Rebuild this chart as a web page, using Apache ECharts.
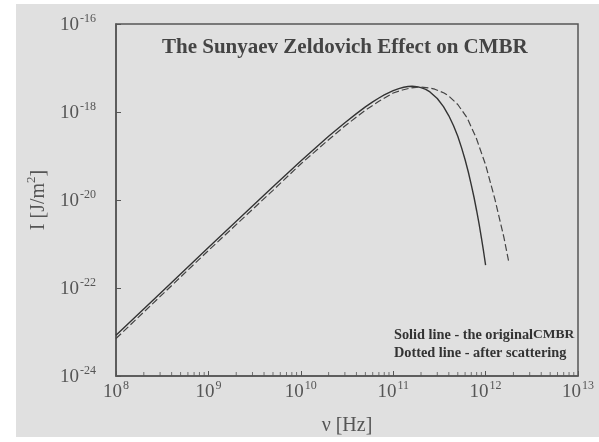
<!DOCTYPE html>
<html>
<head>
<meta charset="utf-8">
<script src="https://cdn.jsdelivr.net/npm/echarts@6/dist/echarts.min.js"></script>
<style>
html,body{margin:0;padding:0;background:#fff;}
#c{width:599px;height:442px;}
</style>
</head>
<body>
<div id="c"></div>
<script>
// Data (frequency in Hz, intensity in J/m^2)
const freqSolid = [1e8, 3e8, 1e9, 3e9, 5e9, 1e10, 1.5e10, 2e10, 3e10, 4e10, 5e10, 6e10, 7e10, 8e10, 9e10, 1e11, 1.15e11, 1.3e11, 1.45e11, 1.6e11, 1.8e11, 2e11, 2.25e11, 2.5e11, 3e11, 3.5e11, 4e11, 4.5e11, 5e11, 5.5e11, 6e11, 6.5e11, 7e11, 7.5e11, 8e11, 8.5e11, 9e11, 9.5e11, 1e12];
const valSolid  = [8.4e-24, 7.5e-23, 8.3e-22, 7.3e-21, 2.0e-20, 7.7e-20, 1.65e-19, 2.8e-19, 5.7e-19, 9.2e-19, 1.31e-18, 1.7e-18, 2.08e-18, 2.44e-18, 2.77e-18, 3.06e-18, 3.41e-18, 3.65e-18, 3.79e-18, 3.84e-18, 3.77e-18, 3.59e-18, 3.26e-18, 2.86e-18, 2.03e-18, 1.33e-18, 8.2e-19, 4.86e-19, 2.8e-19, 1.53e-19, 8.2e-20, 4.33e-20, 2.2e-20, 1.14e-20, 5.7e-21, 2.85e-21, 1.4e-21, 6.85e-22, 3.3e-22];
const freqDashed = [1e8, 1e9, 5e9, 1e10, 2e10, 3e10, 5e10, 7e10, 1e11, 1.26e11, 1.58e11, 2e11, 2.5e11, 2.82e11, 3.16e11, 3.55e11, 4e11, 5e11, 6.3e11, 7.9e11, 1e12, 1.26e12, 1.58e12, 1.79e12];
const valDashed  = [7.1e-24, 7.1e-22, 1.66e-20, 6.6e-20, 2.35e-19, 4.8e-19, 1.1e-18, 1.75e-18, 2.7e-18, 3.16e-18, 3.55e-18, 3.7e-18, 3.5e-18, 3.3e-18, 3.0e-18, 2.7e-18, 2.3e-18, 1.48e-18, 7.4e-19, 2.6e-19, 6.3e-20, 1.05e-20, 1.4e-21, 3.7e-22];
const xTickExponents = [8, 9, 10, 11, 12, 13];
const yTickExponents = [-24, -22, -20, -18, -16];
const minorMultipliers = [2, 3, 4, 5, 6, 7, 8, 9];
const titleText = 'The Sunyaev Zeldovich Effect on CMBR';
const noteLine1 = 'Solid line - the original';
const noteLine1b = 'CMBR';
const noteLine2 = 'Dotted line - after scattering';

// log10 scales (ECharts' log axis loses precision below 1e-20)
const lg = Math.log10;
const xMin = xTickExponents[0], xMax = xTickExponents[xTickExponents.length - 1];
const yMin = yTickExponents[0], yMax = yTickExponents[yTickExponents.length - 1];
const minorTicks = [];
for (let e = xMin; e < xMax; e++) {
  minorMultipliers.forEach(m => minorTicks.push([lg(m * Math.pow(10, e)), yMin]));
}

const serif = '"Liberation Serif", "DejaVu Serif", serif';
const labelRich = {
  b: {fontFamily: serif, fontSize: 19, color: '#555', lineHeight: 22, verticalAlign: 'bottom'},
  s: {fontFamily: serif, fontSize: 12, color: '#555', lineHeight: 22, verticalAlign: 'top', padding: [0, 0, 0, 1]}
};
function expLabel(v) {
  return '{b|10}{s|' + Math.round(v) + '}';
}

const chart = echarts.init(document.getElementById('c'));
chart.setOption({
  backgroundColor: '#ffffff',
  animation: false,
  graphic: [
    {type: 'rect', z: -10, shape: {x: 16, y: 4, width: 583, height: 433}, style: {fill: '#e0e0e0'}, silent: true},
    {type: 'text', z: 10, x: 394, y: 335, style: {
      text: '{a|' + noteLine1 + '}{c|' + noteLine1b + '}', verticalAlign: 'middle',
      rich: {a: {fontFamily: serif, fontWeight: 'bold', fontSize: 14.3, fill: '#333'}, c: {fontFamily: serif, fontWeight: 'bold', fontSize: 13.5, fill: '#333'}}
    }},
    {type: 'text', z: 10, x: 394, y: 353, style: {
      text: noteLine2, verticalAlign: 'middle', fontFamily: serif, fontWeight: 'bold', fontSize: 14.3, fill: '#333'
    }}
  ],
  title: {
    text: titleText, left: 157, top: 32,
    textStyle: {fontFamily: serif, fontWeight: 'bold', fontSize: 21, color: '#444'}
  },
  grid: {left: 116, right: 21, top: 24, bottom: 66, show: true, borderColor: '#555', borderWidth: 1.5, backgroundColor: 'transparent'},
  xAxis: {
    type: 'value', min: xMin, max: xMax, interval: 1,
    name: 'ν [Hz]', nameLocation: 'middle', nameGap: 40,
    nameTextStyle: {fontFamily: serif, fontSize: 20, color: '#555'},
    axisLine: {show: true, lineStyle: {color: '#555', width: 1.5}},
    axisTick: {show: true, inside: true, length: 5, lineStyle: {color: '#555'}},
    splitLine: {show: false},
    axisLabel: {margin: 4, formatter: expLabel, rich: labelRich}
  },
  yAxis: {
    type: 'value', min: yMin, max: yMax, interval: 2,
    name: '{t|I [J/m}{s|2}{t|]}', nameLocation: 'middle', nameGap: 57, nameRotate: 90,
    nameTextStyle: {rich: {
      t: {fontFamily: serif, fontSize: 20, color: '#555', lineHeight: 24, verticalAlign: 'bottom'},
      s: {fontFamily: serif, fontSize: 13, color: '#555', lineHeight: 24, verticalAlign: 'top'}
    }},
    axisLine: {show: true, lineStyle: {color: '#555', width: 1.5}},
    axisTick: {show: true, inside: true, length: 5, lineStyle: {color: '#555'}},
    splitLine: {show: false},
    axisLabel: {margin: 20, formatter: expLabel, rich: labelRich}
  },
  series: [
    {
      type: 'line', name: 'original', showSymbol: false, smooth: false,
      data: freqSolid.map((f, i) => [lg(f), lg(valSolid[i])]),
      lineStyle: {color: '#333', width: 1.4}
    },
    {
      type: 'line', name: 'scattered', showSymbol: false, smooth: false,
      data: freqDashed.map((f, i) => [lg(f), lg(valDashed[i])]),
      lineStyle: {color: '#444', width: 1.2, type: [7, 3]}
    },
    {
      type: 'scatter', name: 'minor', silent: true, clip: false,
      symbol: 'rect', symbolSize: [1, 4], symbolOffset: [0, -2],
      itemStyle: {color: '#555'},
      data: minorTicks
    }
  ]
});
</script>
</body>
</html>
